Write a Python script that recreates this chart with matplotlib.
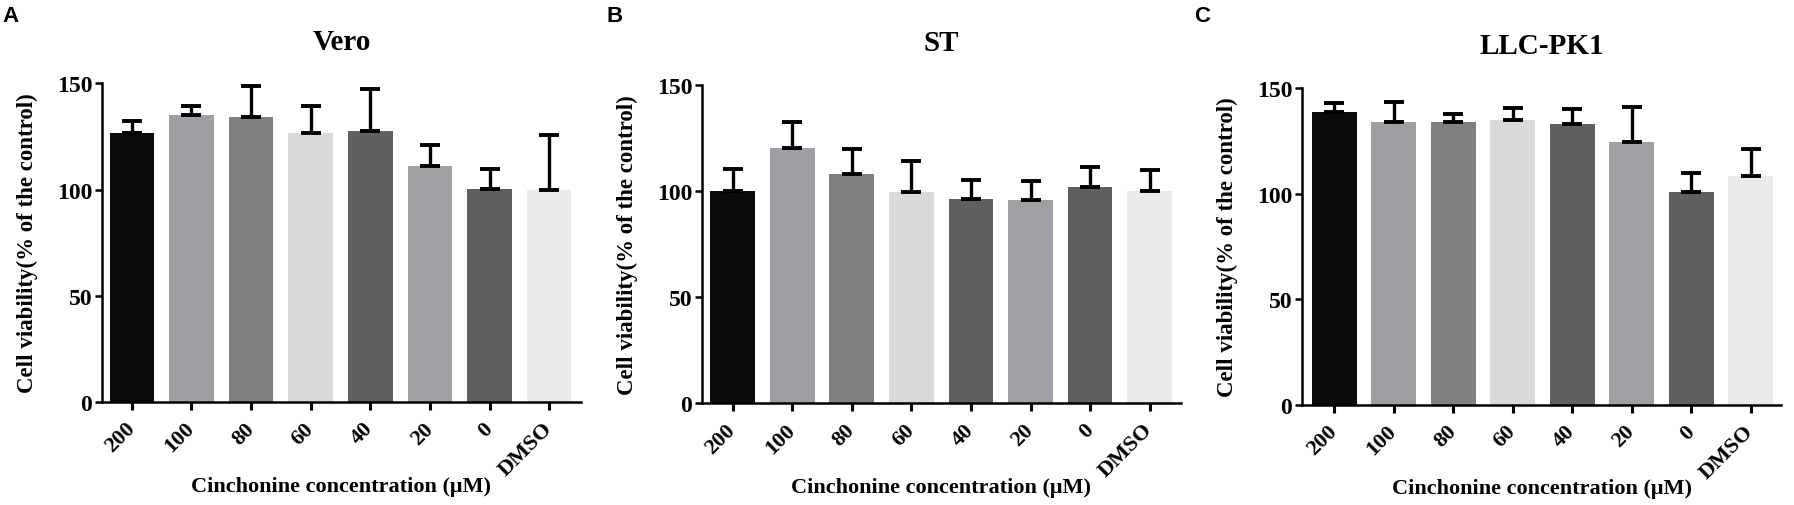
import matplotlib
matplotlib.use("Agg")
import matplotlib.pyplot as plt
import numpy as np

# ── data ──
labels = ["200", "100", "80", "60", "40", "20", "0", "DMSO"]
bar_colors = ["#0a0b0c", "#9e9fa3", "#7f8081", "#d8d9d9",
              "#5f6062", "#9fa0a3", "#5e5f61", "#e9eaeb"]

vero_mean = [126.8, 135.0, 134.2, 126.7, 127.6, 110.9, 100.2, 99.9]
vero_sd = [5.5, 4.4, 14.8, 12.7, 19.9, 9.9, 9.3, 25.7]

st_mean = [99.8, 120.4, 107.9, 99.7, 96.1, 95.8, 102.0, 100.2]
st_sd = [10.6, 12.0, 11.9, 14.3, 9.1, 8.9, 9.5, 9.9]

llc_mean = [138.5, 133.9, 134.1, 134.8, 132.8, 124.4, 100.7, 108.3]
llc_sd = [4.6, 9.3, 3.7, 5.9, 7.4, 16.8, 9.0, 12.8]

# (letter, title, means, sd, axes rect, xlim, letter x in px)
panels = [
    ("A", "Vero", vero_mean, vero_sd, [0.0569, 0.2042, 0.2668, 0.6289], (-0.50, 7.53), 2),
    ("B", "ST", st_mean, st_sd, [0.3913, 0.2016, 0.2668, 0.6285], (-0.515, 7.52), 607),
    ("C", "LLC-PK1", llc_mean, llc_sd, [0.7258, 0.1986, 0.2670, 0.6255], (-0.54, 7.51), 1194),
]

serif = "Liberation Serif"
W, H = 1794, 506

fig = plt.figure(figsize=(W / 100, H / 100), dpi=100)

for letter, title, mean, sd, rect, xlim, lx in panels:
    ax = fig.add_axes(rect)
    x = np.arange(len(labels))
    ax.bar(x, mean, width=0.75, color=bar_colors, edgecolor="none", zorder=2)
    ax.errorbar(x, mean, yerr=[np.zeros(len(sd)), sd], fmt="none",
                ecolor="black", elinewidth=2.4, capsize=7.5, capthick=2.8, zorder=3)

    ax.set_ylim(0, 150)
    ax.set_xlim(*xlim)
    ax.set_yticks([0, 50, 100, 150])
    ax.set_xticks(x)
    ax.set_xticklabels(labels, rotation=45, ha="right", va="center",
                       rotation_mode="anchor")

    for s in ("top", "right"):
        ax.spines[s].set_visible(False)
    for s in ("left", "bottom"):
        ax.spines[s].set_linewidth(1.8)
    ax.tick_params(axis="y", width=1.8, length=5, labelsize=17, pad=2)
    ax.tick_params(axis="x", width=2.2, length=6, labelsize=16, pad=11)
    for t in ax.get_xticklabels() + ax.get_yticklabels():
        t.set_fontfamily(serif)
        t.set_fontweight("bold")

    ax.set_title(title, fontsize=21, fontweight="bold", family=serif, pad=25)
    ax.set_ylabel("Cell viability(% of the control)", fontsize=16.5,
                  fontweight="bold", family=serif)
    ax.yaxis.set_label_coords(-0.134, 0.5)
    ax.set_xlabel("Cinchonine concentration (\u03bcM)", fontsize=16,
                  fontweight="bold", family=serif)
    ax.xaxis.set_label_coords(0.5, -0.232)

    fig.text(lx / W, 1 - 6 / H, letter, fontsize=16, fontweight="bold",
             family="Liberation Sans", va="top", ha="left")

fig.savefig("out.png", dpi=100)
